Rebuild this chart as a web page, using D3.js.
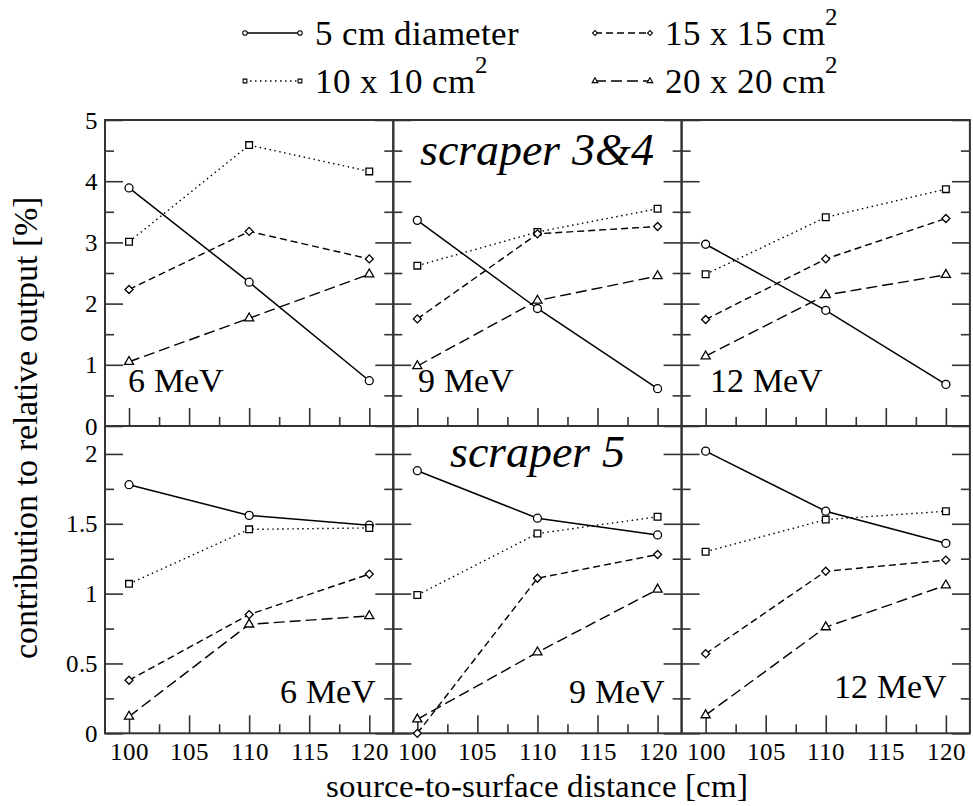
<!DOCTYPE html>
<html>
<head>
<script src="https://cdn.jsdelivr.net/npm/d3@7"></script>
<style>
  @font-face { font-family: "ChartSerif"; src: local("Liberation Serif"), local("LiberationSerif"), local("Tinos"), local("Times New Roman"); font-style: normal; }
  @font-face { font-family: "ChartSerif"; src: local("Liberation Serif Italic"), local("LiberationSerif-Italic"), local("Tinos Italic"); font-style: italic; }
</style>
</head>
<body style="margin:0">
<div id="root"></div>
<script>
// x values (source-to-surface distance, cm)
var ssd = [100, 110, 120];
var energies = ["6 MeV", "9 MeV", "12 MeV"];
var seriesNames = ["5 cm diameter", "10 x 10 cm", "15 x 15 cm", "20 x 20 cm"];

// scraper 3&4 : one row per energy (6, 9, 12 MeV)
var diam5_s34 = [[3.89, 2.35, 0.74], [3.36, 1.92, 0.61], [2.97, 1.89, 0.68]];
var sq10_s34 = [[3.01, 4.59, 4.16], [2.62, 3.17, 3.55], [2.48, 3.41, 3.87]];
var sq15_s34 = [[2.23, 3.18, 2.73], [1.75, 3.14, 3.26], [1.74, 2.73, 3.39]];
var sq20_s34 = [[1.05, 1.76, 2.48], [0.98, 2.05, 2.45], [1.14, 2.14, 2.47]];

// scraper 5
var diam5_s5 = [[1.78, 1.56, 1.49], [1.88, 1.54, 1.42], [2.02, 1.59, 1.36]];
var sq10_s5 = [[1.07, 1.46, 1.47], [0.99, 1.43, 1.55], [1.30, 1.53, 1.59]];
var sq15_s5 = [[0.38, 0.85, 1.14], [0.00, 1.11, 1.28], [0.57, 1.16, 1.24]];
var sq20_s5 = [[0.12, 0.78, 0.84], [0.10, 0.58, 1.03], [0.13, 0.76, 1.06]];

// tick labels
var xTicks = [100, 105, 110, 115, 120];
var xMinor = [102.5, 107.5, 112.5, 117.5];
var yTicksTop = [0, 1, 2, 3, 4, 5];
var yMinorTop = [0.5, 1.5, 2.5, 3.5, 4.5];
var yTicksBot = [0, 0.5, 1, 1.5, 2];
var yMinorBot = [0.25, 0.75, 1.25, 1.75];

var rows = [
  {label: "scraper 3&4", series: [diam5_s34, sq10_s34, sq15_s34, sq20_s34], domain: [0, 5], ticks: yTicksTop, minor: yMinorTop},
  {label: "scraper 5", series: [diam5_s5, sq10_s5, sq15_s5, sq20_s5], domain: [0, 2.2], ticks: yTicksBot, minor: yMinorBot}
];

// line style per series
var dashes = [null, "1.5,3.5", "7,4", "11,5"];
var symbols = [d3.symbolCircle, d3.symbolSquare, d3.symbolSquare, d3.symbolTriangle];
var symSizes = [50, 45, 32, 36];
var symRotate = [0, 0, 45, 0];

var width = 973, height = 806;
var plotLeft = 105, plotTop = 120;
var panelW = 288.3;
var rowH = [306, 307.3];
var majorLen = 18, minorLen = 9;
var frameColor = "#333";
var fontName = "ChartSerif, Liberation Serif";

var svg = d3.select("#root")
            .append("svg")
            .attr("width", width)
            .attr("height", height)
            .attr("font-family", fontName);

var x = d3.scaleLinear()
          .domain([98, 122])
          .range([0, panelW]);

// small helper so every label gets the serif face
function label(sel, str, size) {
  return sel.append("text")
            .attr("font-family", fontName)
            .attr("font-size", size)
            .attr("fill", "black")
            .text(str);
}

var rowTop = plotTop;
rows.forEach(function(row, r) {
  var y = d3.scaleLinear()
            .domain(row.domain)
            .range([rowH[r], 0]);

  energies.forEach(function(energy, c) {
    var g = svg.append("g")
               .attr("transform", "translate(" + (plotLeft + c * panelW) + "," + rowTop + ")");

    // bottom ticks (inward)
    g.append("g")
     .attr("transform", "translate(0," + rowH[r] + ")")
     .call(d3.axisBottom(x).tickValues(xTicks).tickSizeInner(-majorLen).tickSizeOuter(0).tickPadding(9)
             .tickFormat(r == 1 ? d3.format("d") : function() { return ""; }));
    g.append("g")
     .attr("transform", "translate(0," + rowH[r] + ")")
     .call(d3.axisBottom(x).tickValues(xMinor).tickSizeInner(-minorLen).tickSizeOuter(0).tickFormat(""));

    // left and right ticks
    g.append("g")
     .call(d3.axisLeft(y).tickValues(row.ticks).tickSizeInner(-majorLen).tickSizeOuter(0).tickPadding(7)
             .tickFormat(c == 0 ? d3.format("") : function() { return ""; }));
    g.append("g")
     .call(d3.axisLeft(y).tickValues(row.minor).tickSizeInner(-minorLen).tickSizeOuter(0).tickFormat(""));
    g.append("g")
     .attr("transform", "translate(" + panelW + ",0)")
     .call(d3.axisRight(y).tickValues(row.ticks).tickSizeInner(-majorLen).tickSizeOuter(0).tickFormat(""));
    g.append("g")
     .attr("transform", "translate(" + panelW + ",0)")
     .call(d3.axisRight(y).tickValues(row.minor).tickSizeInner(-minorLen).tickSizeOuter(0).tickFormat(""));

    g.selectAll(".domain").remove();
    g.selectAll("g").attr("font-family", fontName);
    g.selectAll(".tick line")
     .attr("stroke", frameColor)
     .attr("stroke-width", 1.6);
    g.selectAll(".tick text")
     .attr("font-size", 25)
     .attr("font-family", fontName)
     .attr("fill", "black");

    // frame
    g.append("rect")
     .attr("width", panelW)
     .attr("height", rowH[r])
     .attr("fill", "none")
     .attr("stroke", frameColor)
     .attr("stroke-width", 2);

    // series lines
    row.series.forEach(function(s, k) {
      var pts = ssd.map(function(d, i) { return [d, s[c][i]]; });
      var line = d3.line()
                   .x(function(d) { return x(d[0]); })
                   .y(function(d) { return y(d[1]); });
      g.append("path")
       .datum(pts)
       .attr("d", line)
       .attr("fill", "none")
       .attr("stroke", "black")
       .attr("stroke-width", k == 0 ? 1.5 : 1.4)
       .attr("stroke-dasharray", dashes[k]);
    });

    // markers on top
    row.series.forEach(function(s, k) {
      var pts = ssd.map(function(d, i) { return [d, s[c][i]]; });
      g.selectAll(null)
       .data(pts)
       .enter()
       .append("path")
       .attr("d", d3.symbol().type(symbols[k]).size(symSizes[k]))
       .attr("transform", function(d) { return "translate(" + x(d[0]) + "," + y(d[1]) + ") rotate(" + symRotate[k] + ")"; })
       .attr("fill", "white")
       .attr("stroke", "black")
       .attr("stroke-width", 1.3);
    });

    // energy label
    if (r == 0) {
      label(g, energy, 34)
       .attr("x", c == 0 ? 23 : (c == 1 ? 25 : 28))
       .attr("y", 272);
    } else {
      label(g, energy, 34)
       .attr("x", panelW - 17 - (c == 2 ? 6 : 0))
       .attr("y", 277 - (c == 2 ? 5 : 0))
       .attr("text-anchor", "end");
    }

    // scraper title in middle column
    if (c == 1) {
      label(g, row.label, 46)
       .attr("x", panelW / 2)
       .attr("y", r == 0 ? 45 : 41)
       .attr("text-anchor", "middle")
       .attr("font-style", "italic");
    }
  });
  rowTop += rowH[r];
});

// axis titles
label(svg, "source-to-surface distance [cm]", 33)
   .attr("x", plotLeft + panelW * 1.5)
   .attr("y", 797)
   .attr("text-anchor", "middle");

label(svg, "contribution to relative output [%]", 34)
   .attr("transform", "translate(37,428) rotate(-90)")
   .attr("text-anchor", "middle");

// legend
var legendPos = [[245, 33], [245, 81], [595, 33], [595, 81]];
var legendSym = [16, 14, 12, 14];
seriesNames.forEach(function(name, k) {
  var lg = svg.append("g")
              .attr("transform", "translate(" + legendPos[k][0] + "," + legendPos[k][1] + ")");
  lg.append("line")
    .attr("x1", 0)
    .attr("x2", 55)
    .attr("stroke", "black")
    .attr("stroke-width", 1.4)
    .attr("stroke-dasharray", dashes[k]);
  [0, 55].forEach(function(px) {
    lg.append("path")
      .attr("d", d3.symbol().type(symbols[k]).size(legendSym[k]))
      .attr("transform", "translate(" + px + ",0) rotate(" + symRotate[k] + ")")
      .attr("fill", "white")
      .attr("stroke", "black")
      .attr("stroke-width", 1.1);
  });
  var t = label(lg, name, 35)
            .attr("x", 70)
            .attr("y", 12);
  if (k > 0) {
    t.append("tspan")
     .attr("dy", -20)
     .attr("font-size", 25)
     .text("2");
  }
});
</script>
</body>
</html>
